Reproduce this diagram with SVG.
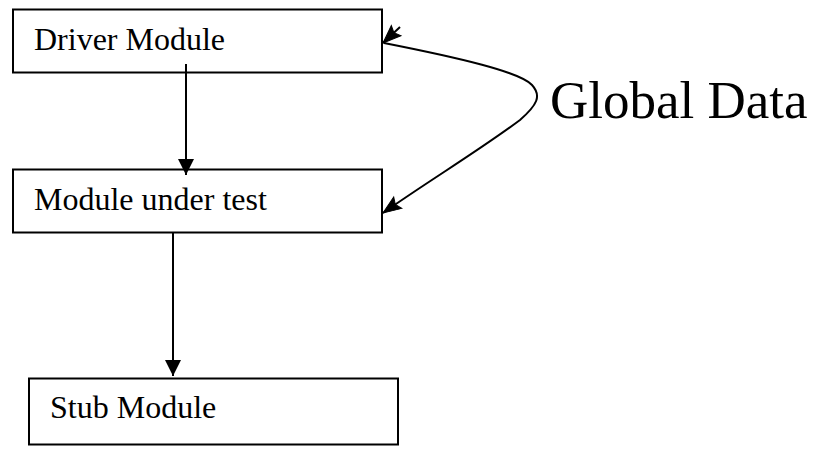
<svg xmlns="http://www.w3.org/2000/svg" width="816" height="474" viewBox="0 0 816 474">
<style>
.box{fill:#fff;stroke:#000;stroke-width:2}
.lbl{font-family:"Liberation Serif","Times New Roman",serif;font-size:32px;fill:#000}
.big{font-family:"Liberation Serif","Times New Roman",serif;font-size:53px;fill:#000}
.con{fill:none;stroke:#000;stroke-width:2}
</style>
<defs>
<marker id="tri" markerUnits="userSpaceOnUse" markerWidth="16" markerHeight="16" viewBox="0 0 14 14" refX="14" refY="7" orient="auto">
<path d="M0,0 L14,7 L0,14 z" fill="#000"/>
</marker>
<marker id="dart" markerUnits="userSpaceOnUse" markerWidth="20" markerHeight="16" viewBox="0 0 20 16" refX="19" refY="8" orient="auto" overflow="visible">
<path d="M1,1 L19,8 L1,15 L4,8 z" fill="#000" stroke="#000" stroke-width="1"/>
</marker>
</defs>
<g id="driver">
<rect class="box" x="13" y="9.5" width="369" height="63"/>
<text class="lbl" x="34" y="50">Driver Module</text>
</g>
<g id="mut">
<rect class="box" x="13" y="169.5" width="369" height="63"/>
<text class="lbl" x="34" y="210">Module under test</text>
</g>
<g id="stub">
<rect class="box" x="29" y="378.5" width="369" height="66"/>
<text class="lbl" x="50" y="418">Stub Module</text>
</g>
<g id="global">
<text class="big" x="550" y="118">Global Data</text>
</g>
<g id="connectors">
<path class="con" d="M186,64 V175" marker-end="url(#tri)"/>
<path class="con" d="M173,233 V376" marker-end="url(#tri)"/>
<path class="con" d="M384,43 C460,58 520,72 532,85 C542,96 537,105 520,120 C480,150 430,180 383,213" marker-end="url(#dart)"/>
<path class="con" d="M400,27 L383,43" marker-end="url(#dart)"/>
</g>
</svg>
